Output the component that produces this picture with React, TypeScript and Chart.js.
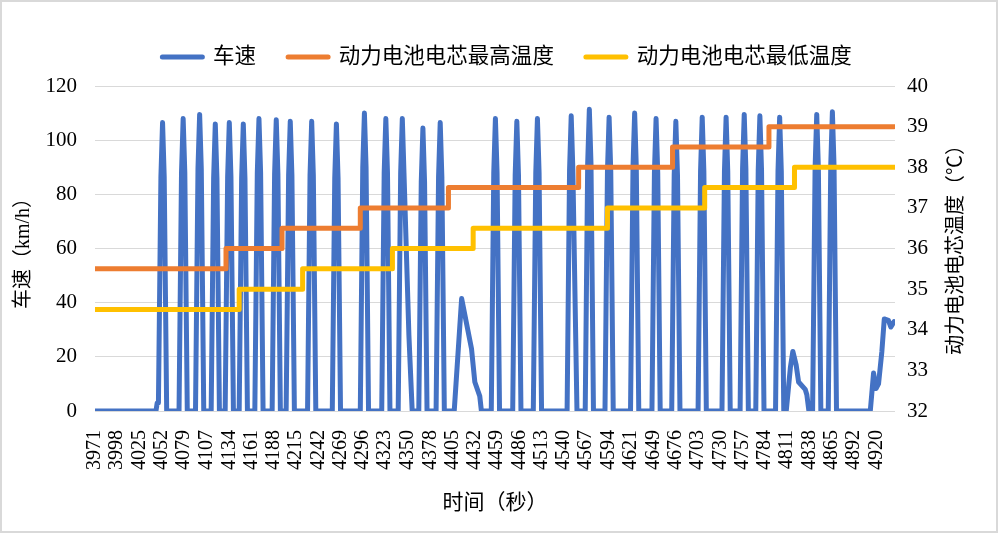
import { useEffect, useRef } from 'react';
import { Chart, registerables } from 'chart.js';

Chart.register(...registerables);

// x axis: seconds, labels every 27 samples as printed under the chart
const xTickLabels = [
  3971, 3998, 4025, 4052, 4079, 4107, 4134, 4161, 4188, 4215, 4242, 4269,
  4296, 4323, 4350, 4378, 4405, 4432, 4459, 4486, 4513, 4540, 4567, 4594,
  4621, 4649, 4676, 4703, 4730, 4757, 4784, 4811, 4838, 4865, 4892, 4920,
];

// vehicle speed (km/h), vertices
const speedTime = [
  3971, 4045, 4046.5, 4048, 4051, 4053, 4055, 4058,
  4073, 4076, 4078, 4080, 4083,
  4093, 4096, 4098, 4100, 4103,
  4112, 4115, 4117, 4119, 4122,
  4129, 4132, 4134, 4136, 4139,
  4146, 4149, 4151, 4153, 4156,
  4165, 4168, 4170, 4172, 4175,
  4186, 4189, 4191, 4193, 4196,
  4203, 4206, 4208, 4210, 4213,
  4229, 4232, 4234, 4236, 4239,
  4259, 4262, 4264, 4266, 4269,
  4293, 4296, 4298, 4300, 4303,
  4319, 4322, 4324, 4326, 4329,
  4339, 4342, 4344, 4346, 4352, 4356,
  4364, 4367, 4369, 4371, 4374,
  4385, 4388, 4390, 4392, 4395,
  4407, 4416, 4428, 4432, 4438, 4440,
  4452, 4455, 4457, 4459, 4462,
  4478, 4481, 4483, 4485, 4488,
  4503, 4506, 4508, 4510, 4513,
  4544, 4547, 4549, 4551, 4556,
  4566, 4569, 4571, 4573, 4576,
  4590, 4593, 4595, 4597, 4600,
  4621, 4624, 4626, 4628, 4631,
  4647, 4650, 4652, 4654, 4657,
  4671, 4674, 4676, 4678, 4681,
  4703, 4706, 4708, 4710, 4713,
  4732, 4735, 4737, 4739, 4742,
  4754, 4757, 4759, 4761, 4764,
  4773, 4776, 4778, 4780, 4783,
  4797, 4800, 4802, 4804, 4807,
  4810, 4815, 4818, 4822, 4825, 4833, 4835, 4837.5,
  4842, 4845, 4847, 4849, 4852,
  4861, 4864, 4866, 4868, 4871,
  4912, 4916, 4919, 4922, 4926, 4929, 4934, 4937, 4941,
];
const speedKmh = [
  0, 0, 3, 3, 86.5, 106.5, 86.5, 0,
  0, 88, 108, 88, 0,
  0, 89.5, 109.5, 89.5, 0,
  0, 86, 106, 86, 0,
  0, 86.5, 106.5, 86.5, 0,
  0, 86, 106, 86, 0,
  0, 88, 108, 88, 0,
  0, 87.5, 107.5, 87.5, 0,
  0, 87, 107, 87, 0,
  0, 87, 107, 87, 0,
  0, 86, 106, 86, 0,
  0, 90, 110, 90, 0,
  0, 88, 108, 88, 0,
  0, 88, 108, 88, 28, 0,
  0, 84.5, 104.5, 84.5, 0,
  0, 86.5, 106.5, 86.5, 0,
  0, 41.5, 23, 10.7, 5.5, 0,
  0, 88, 108, 88, 0,
  0, 87, 107, 87, 0,
  0, 88, 108, 88, 0,
  0, 89, 109, 89, 0,
  0, 91.4, 111.4, 91.4, 0,
  0, 88.5, 108.5, 88.5, 0,
  0, 90, 110, 90, 0,
  0, 88, 108, 88, 0,
  0, 87, 107, 87, 0,
  0, 88.5, 108.5, 88.5, 0,
  0, 88.5, 108.5, 88.5, 0,
  0, 89.5, 109.5, 89.5, 0,
  0, 89, 109, 89, 0,
  0, 88.5, 108.5, 88.5, 0,
  0, 16, 22, 17, 10.7, 8, 6, 0,
  0, 89.5, 109.5, 89.5, 0,
  0, 90.5, 110.5, 90.5, 0,
  0, 14, 8.3, 10, 21.8, 34, 33.5, 31, 33,
];

// cell temperatures (℃): time of each step and the level from then on
const maxTempTime = [3971, 4130, 4198, 4293, 4400, 4558, 4672, 4789, 4941];
const maxTempValue = [35.5, 36, 36.5, 37, 37.5, 38, 38.5, 39, 39];
const minTempTime = [3971, 4146, 4223, 4332, 4430, 4593, 4711, 4820, 4941];
const minTempValue = [34.5, 35, 35.5, 36, 36.5, 37, 37.5, 38, 38];

const seriesNames = ['车速', '动力电池电芯最高温度', '动力电池电芯最低温度'];
const seriesColors = ['#4472C4', '#ED7D31', '#FFC000'];

const NUM_FONT = '"Liberation Serif", serif';
const TEXT_FONT = '"Liberation Serif", "Noto Sans CJK SC", serif';

const toPoints = (xs: number[], ys: number[]) => xs.map((x, i) => ({ x, y: ys[i] }));

const lineStyle = (color: string) => ({
  borderColor: color,
  backgroundColor: color,
  borderWidth: 5,
  borderCapStyle: 'round' as const,
  borderJoinStyle: 'round' as const,
  pointRadius: 0,
  pointHoverRadius: 0,
  pointStyle: 'line' as const,
  fill: false,
  tension: 0,
});

const framePlugin = {
  id: 'frame',
  beforeDraw(chart: Chart) {
    const { ctx, width, height } = chart;
    ctx.save();
    ctx.fillStyle = '#fff';
    ctx.fillRect(0, 0, width, height);
    ctx.restore();
  },
  afterDraw(chart: Chart) {
    const { ctx } = chart;
    ctx.save();
    ctx.strokeStyle = '#d9d9d9';
    ctx.lineWidth = 2;
    ctx.strokeRect(1, 1, 996, 531);
    // right axis title reads bottom to top like the left one
    ctx.translate(957, 245);
    ctx.rotate(-Math.PI / 2);
    ctx.font = `20px ${TEXT_FONT}`;
    ctx.fillStyle = '#000';
    ctx.textAlign = 'center';
    ctx.textBaseline = 'middle';
    ctx.fillText('动力电池电芯温度（℃）', 0, 0);
    ctx.restore();
  },
};

export default function App() {
  const canvasRef = useRef<HTMLCanvasElement>(null);

  useEffect(() => {
    if (!canvasRef.current) return;

    const chart = new Chart(canvasRef.current, {
      type: 'line',
      data: {
        datasets: [
          {
            label: seriesNames[0],
            data: toPoints(speedTime, speedKmh),
            yAxisID: 'y',
            order: 3,
            ...lineStyle(seriesColors[0]),
          },
          {
            label: seriesNames[1],
            data: toPoints(maxTempTime, maxTempValue),
            yAxisID: 'y1',
            stepped: 'before',
            order: 2,
            ...lineStyle(seriesColors[1]),
          },
          {
            label: seriesNames[2],
            data: toPoints(minTempTime, minTempValue),
            yAxisID: 'y1',
            stepped: 'before',
            order: 1,
            ...lineStyle(seriesColors[2]),
          },
        ],
      },
      options: {
        responsive: false,
        animation: false,
        events: [],
        layout: { padding: { top: 14.25, left: 14, right: 0, bottom: 0 } },
        plugins: {
          tooltip: { enabled: false },
          legend: {
            position: 'top',
            labels: {
              usePointStyle: true,
              pointStyleWidth: 40,
              padding: 32,
              color: '#000',
              font: { size: 21.5, family: TEXT_FONT },
              generateLabels: (c: Chart) =>
                Chart.defaults.plugins.legend.labels
                  .generateLabels(c)
                  .map((item: any) => ({
                    ...item,
                    pointStyle: 'line',
                    lineCap: 'round',
                    lineWidth: 5,
                    strokeStyle: seriesColors[item.datasetIndex],
                  }))
                  .sort((a: any, b: any) => a.datasetIndex - b.datasetIndex),
            },
          },
          // empty spacer between legend and plot
          subtitle: {
            display: true,
            text: '',
            position: 'top',
            weight: 500,
            font: { size: 1, lineHeight: 1 },
            padding: { top: 0, bottom: 7.25 },
          },
        },
        scales: {
          x: {
            type: 'linear',
            min: 3971,
            max: 4942,
            grid: { display: false, drawTicks: false },
            border: { display: false },
            afterBuildTicks: (scale: any) => {
              scale.ticks = xTickLabels.map((value) => ({ value }));
            },
            afterFit: (scale: any) => {
              scale.height = 123;
            },
            ticks: {
              autoSkip: false,
              maxRotation: 90,
              minRotation: 90,
              padding: 19,
              color: '#000',
              font: { size: 20, family: NUM_FONT },
              callback: (v: any) => String(v),
            },
            title: {
              display: true,
              text: '时间（秒）',
              color: '#000',
              font: { size: 21, family: TEXT_FONT },
              padding: { top: 0, bottom: 18 },
            },
          },
          y: {
            position: 'left',
            min: 0,
            max: 120,
            grid: { color: '#d9d9d9', lineWidth: 1, drawTicks: false },
            border: { display: false },
            afterFit: (scale: any) => {
              scale.width = 81;
            },
            ticks: {
              stepSize: 20,
              padding: 18,
              color: '#000',
              font: { size: 21, family: NUM_FONT },
            },
            title: {
              display: true,
              text: '车速（km/h）',
              color: '#000',
              font: { size: 20, family: TEXT_FONT, lineHeight: 1 },
              padding: { top: 0, bottom: 0 },
            },
          },
          y1: {
            position: 'right',
            min: 32,
            max: 40,
            grid: { display: false, drawOnChartArea: false, drawTicks: false },
            border: { display: false },
            afterFit: (scale: any) => {
              scale.width = 105;
            },
            ticks: {
              stepSize: 1,
              padding: 12,
              color: '#000',
              font: { size: 21, family: NUM_FONT },
            },
          },
        },
      },
      plugins: [framePlugin],
    } as any);

    return () => {
      chart.destroy();
    };
  }, []);

  return (
    <div style={{ position: 'fixed', left: 0, top: 0, width: 1000, height: 534, background: '#fff' }}>
      <canvas ref={canvasRef} width={1000} height={534} style={{ display: 'block' }} />
    </div>
  );
}
